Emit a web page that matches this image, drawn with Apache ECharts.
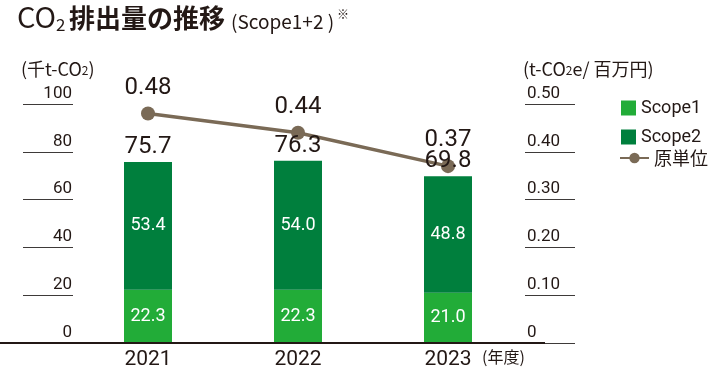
<!DOCTYPE html>
<html><head><meta charset="utf-8">
<script src="https://cdn.jsdelivr.net/npm/echarts@6/dist/echarts.min.js"></script>
<style>html,body{margin:0;padding:0;background:#fff}#c{width:710px;height:384px}</style>
</head><body><div id="c"></div>
<script>
const categories = ['2021', '2022', '2023'];
const scope1 = [22.3, 22.3, 21.0];
const scope2 = [53.4, 54.0, 48.8];
const totals = [75.7, 76.3, 69.8];
const intensity = [0.48, 0.44, 0.37];
const leftTicks = [0, 20, 40, 60, 80, 100];
const rightTicks = [0, 0.1, 0.2, 0.3, 0.4, 0.5];

const TXT = '#231815';
const NUM = 'Roboto, "Noto Sans", sans-serif';
const JP = '"Noto Sans CJK JP", "Noto Sans", sans-serif';
const chart = echarts.init(document.getElementById('c'));
chart.setOption({
  animation: false,
  legend: [{
    data: ['Scope1', 'Scope2'],
    orient: 'vertical', left: 616, top: 94,
    itemWidth: 15, itemHeight: 15, itemGap: 11,
    icon: 'rect',
    textStyle: {fontFamily: NUM, fontSize: 18, color: TXT, padding: [0, 0, 0, 0]}
  }, {
    data: ['原単位'],
    orient: 'vertical', left: 614, top: 144,
    itemWidth: 29, itemHeight: 13,
    textStyle: {fontFamily: JP, fontSize: 18, color: TXT}
  }],
  grid: {left: 73, right: 187, top: 104, bottom: 41},
  xAxis: {
    type: 'category', data: categories,
    axisLine: {show: false}, axisTick: {show: false},
    axisLabel: {fontFamily: NUM, fontSize: 21, color: TXT, margin: 6}
  },
  yAxis: [{
    type: 'value', min: 0, max: 100, interval: 20,
    name: '{p|(千t-CO}{s|2}{p|)}', nameLocation: 'end', nameGap: 26,
    nameTextStyle: {align: 'left', padding: [0, 0, 0, -52],
      rich: {p: {fontFamily: JP, fontSize: 18, color: TXT}, s: {fontFamily: JP, fontSize: 12, color: TXT, padding: [3, 0, 0, 0]}}},
    splitLine: {show: false}, axisLine: {show: false},
    axisTick: {show: true, length: 50, lineStyle: {color: '#3e3a39', width: 1}},
    axisLabel: {fontFamily: NUM, fontSize: 17, color: TXT, margin: 1, verticalAlign: 'bottom', padding: [0, 0, 2, 0],
      formatter: v => leftTicks.includes(v) ? String(v) : ''}
  }, {
    type: 'value', min: 0, max: 0.5, interval: 0.1, position: 'right', offset: 2,
    name: '{p|(t-CO}{s|2}{p|e/ 百万円)}', nameLocation: 'end', nameGap: 26,
    nameTextStyle: {align: 'left', padding: [0, 0, 0, -2],
      rich: {p: {fontFamily: JP, fontSize: 18, color: TXT}, s: {fontFamily: JP, fontSize: 12, color: TXT, padding: [3, 0, 0, 0]}}},
    splitLine: {show: false}, axisLine: {show: false},
    axisTick: {show: true, length: 50, lineStyle: {color: '#3e3a39', width: 1}},
    axisLabel: {fontFamily: NUM, fontSize: 17, color: TXT, margin: 2, verticalAlign: 'bottom', padding: [0, 0, 2, 0],
      formatter: v => { const r = rightTicks.find(t => Math.abs(t - v) < 1e-9); return r === 0 ? '0' : (r !== undefined ? r.toFixed(2) : ''); }}
  }],
  series: [{
    name: 'Scope1', type: 'bar', stack: 'co2', barWidth: 48, data: scope1,
    itemStyle: {color: '#22ac38'},
    label: {show: true, position: 'inside', fontFamily: NUM, fontSize: 18, color: '#fff', formatter: p => p.value.toFixed(1)}
  }, {
    name: 'Scope2', type: 'bar', stack: 'co2', barWidth: 48, data: scope2,
    itemStyle: {color: '#007f3d'},
    label: {show: true, position: 'inside', fontFamily: NUM, fontSize: 18, color: '#fff', formatter: p => p.value.toFixed(1)}
  }, {
    name: 'total', type: 'bar', stack: 'co2', barWidth: 48, data: totals.map(() => 0),
    itemStyle: {color: 'transparent'},
    label: {show: true, position: 'top', distance: 3, fontFamily: NUM, fontSize: 24, color: TXT,
      formatter: p => totals[p.dataIndex].toFixed(1)},
    z: 12
  }, {
    name: '原単位', type: 'line', yAxisIndex: 1, data: intensity,
    symbol: 'circle', symbolSize: 14,
    lineStyle: {color: '#7a6a56', width: 3.5},
    itemStyle: {color: '#7a6a56'},
    label: {show: true, position: 'top', distance: 7, fontFamily: NUM, fontSize: 24, color: TXT,
      formatter: p => p.value.toFixed(2)},
    z: 1
  }],
  graphic: [{
    type: 'line', shape: {x1: 0, y1: 343, x2: 545, y2: 343},
    style: {stroke: '#231815', lineWidth: 2}, z: 20
  }, {
    type: 'text', x: 482, y: 357,
    style: {text: '(年度)', fontFamily: JP, fontSize: 16, fill: TXT, verticalAlign: 'middle'}
  }, {
    type: 'text', x: 17, y: 17,
    style: {text: 'CO', fontFamily: JP, fontSize: 29, fill: TXT, verticalAlign: 'middle'}
  }, {
    type: 'text', x: 56, y: 25,
    style: {text: '2', fontFamily: JP, fontSize: 17, fill: TXT, verticalAlign: 'middle'}
  }, {
    type: 'text', x: 69, y: 18,
    style: {text: '排出量の推移', fontFamily: JP, fontSize: 26, fontWeight: 'bold', fill: TXT, verticalAlign: 'middle'}
  }, {
    type: 'text', x: 231, y: 22,
    style: {text: '(Scope1+2 )', fontFamily: JP, fontSize: 19, fill: TXT, verticalAlign: 'middle'}
  }, {
    type: 'text', x: 337, y: 14,
    style: {text: '※', fontFamily: JP, fontSize: 12, fill: TXT, verticalAlign: 'middle'}
  }]
});
</script></body></html>
